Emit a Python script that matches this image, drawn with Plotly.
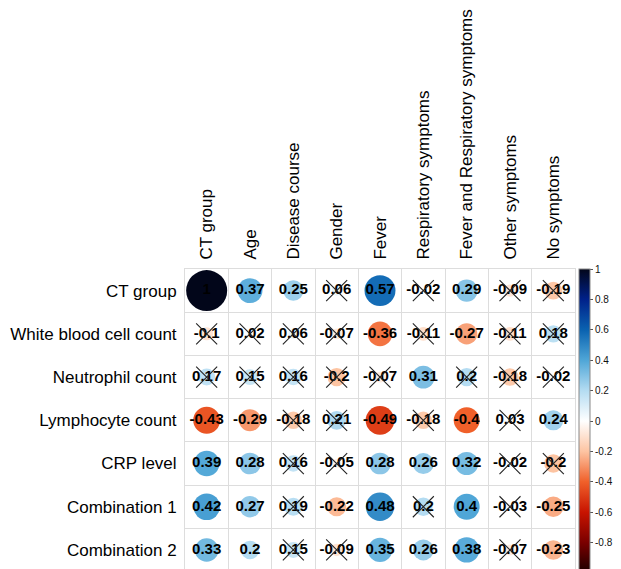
import plotly.graph_objects as go

rows = ["CT group", "White blood cell count", "Neutrophil count", "Lymphocyte count",
        "CRP level", "Combination 1", "Combination 2"]
cols = ["CT group", "Age", "Disease course", "Gender", "Fever", "Respiratory symptoms",
        "Fever and Respiratory symptoms", "Other symptoms", "No symptoms"]

r_ct = [1, 0.37, 0.25, 0.06, 0.57, -0.02, 0.29, -0.09, -0.19]
r_wbc = [-0.1, 0.02, 0.06, -0.07, -0.36, -0.11, -0.27, -0.11, 0.18]
r_neu = [0.17, 0.15, 0.16, -0.2, -0.07, 0.31, 0.2, -0.18, -0.02]
r_lym = [-0.43, -0.29, -0.18, 0.21, -0.49, -0.18, -0.4, 0.03, 0.24]
r_crp = [0.39, 0.28, 0.16, -0.05, 0.28, 0.26, 0.32, -0.02, -0.2]
r_c1 = [0.42, 0.27, 0.19, -0.22, 0.48, 0.2, 0.4, -0.03, -0.25]
r_c2 = [0.33, 0.2, 0.15, -0.09, 0.35, 0.26, 0.38, -0.07, -0.23]

# 1 = not significant (crossed out)
ns_ct = [0, 0, 0, 1, 0, 1, 0, 1, 1]
ns_wbc = [1, 1, 1, 1, 0, 1, 0, 1, 1]
ns_neu = [1, 1, 1, 1, 1, 0, 1, 1, 1]
ns_lym = [0, 0, 1, 1, 0, 1, 0, 1, 0]
ns_crp = [0, 0, 1, 1, 0, 0, 0, 1, 1]
ns_c1 = [0, 0, 1, 0, 0, 1, 0, 1, 0]
ns_c2 = [0, 0, 1, 1, 0, 0, 0, 1, 0]

cb_ticks = [1, 0.8, 0.6, 0.4, 0.2, 0, -0.2, -0.4, -0.6, -0.8, -1]

R = [r_ct, r_wbc, r_neu, r_lym, r_crp, r_c1, r_c2]
NS = [ns_ct, ns_wbc, ns_neu, ns_lym, ns_crp, ns_c1, ns_c2]

colorscale = [
    [0.0, "#1a0000"], [0.1, "#7a0000"], [0.2, "#c81400"], [0.3, "#f0602a"],
    [0.4, "#fdc4a2"], [0.5, "#ffffff"], [0.6, "#b4dcf2"], [0.7, "#4fa6d7"],
    [0.8, "#0a62b0"], [0.9, "#00218a"], [1.0, "#02061a"],
]

xs, ys, vals, sizes, labels, xx, xy = [], [], [], [], [], [], []
for i, (rr, nn) in enumerate(zip(R, NS)):
    for j, (v, n) in enumerate(zip(rr, nn)):
        xs.append(j)
        ys.append(i)
        vals.append(v)
        sizes.append(41 * abs(v) ** 0.5)
        labels.append(f"{v:g}")
        if n:
            xx.append(j)
            xy.append(i)

font = "Liberation Sans, Arial, sans-serif"

fig = go.Figure()
fig.add_trace(go.Scatter(
    x=xs, y=ys, mode="markers", hoverinfo="skip",
    marker=dict(size=sizes, color=vals, colorscale=colorscale, cmin=-1, cmax=1,
                line=dict(width=0), opacity=1,
                showscale=True,
                colorbar=dict(thickness=11, lenmode="pixels", len=304, y=1, yanchor="top",
                              x=1, xanchor="left", xpad=4, ypad=0,
                              tickvals=cb_ticks, ticktext=[f"{t:g}" for t in cb_ticks],
                              ticks="outside", ticklen=3, tickcolor="#555",
                              outlinewidth=1, outlinecolor="#888",
                              tickfont=dict(family=font, size=10, color="#111"))),
))
fig.add_trace(go.Scatter(
    x=xs, y=ys, mode="text", text=labels, hoverinfo="skip",
    textfont=dict(family=font, size=15, color="black", weight=700),
))
fig.add_trace(go.Scatter(
    x=xx, y=xy, mode="markers", hoverinfo="skip",
    marker=dict(symbol="x-thin-open", size=21, color="#222",
                line=dict(width=1.1, color="#222")),
))

gridc = "#dddddd"
fig.update_layout(
    width=621, height=569,
    margin=dict(l=185, r=46, t=269, b=0, autoexpand=False),
    paper_bgcolor="white", plot_bgcolor="white",
    showlegend=False,
    font=dict(family=font, color="black"),
    xaxis=dict(side="top", range=[-0.5, len(cols) - 0.5], tickmode="array",
               tickvals=list(range(len(cols))), ticktext=cols, tickangle=-90,
               tickfont=dict(size=17), showgrid=False, zeroline=False, ticks="",
               ticklabelstandoff=5, automargin=False,
               showline=True, mirror=True, linecolor=gridc,
               minor=dict(tickmode="array", tickvals=[k + 0.5 for k in range(len(cols) - 1)],
                          showgrid=True, gridcolor=gridc, gridwidth=1, ticks="")),
    yaxis=dict(range=[len(rows) - 0.56, -0.5], tickmode="array",
               tickvals=list(range(len(rows))), ticktext=rows,
               tickfont=dict(size=17), showgrid=False, zeroline=False, ticks="",
               ticklabelstandoff=4, automargin=False,
               showline=True, mirror=True, linecolor=gridc,
               minor=dict(tickmode="array", tickvals=[k + 0.5 for k in range(len(rows) - 1)],
                          showgrid=True, gridcolor=gridc, gridwidth=1, ticks="")),
)

fig.write_html("out.html", config={"displayModeBar": False},
               post_script="document.body.style.margin='0';document.body.style.padding='0';")
